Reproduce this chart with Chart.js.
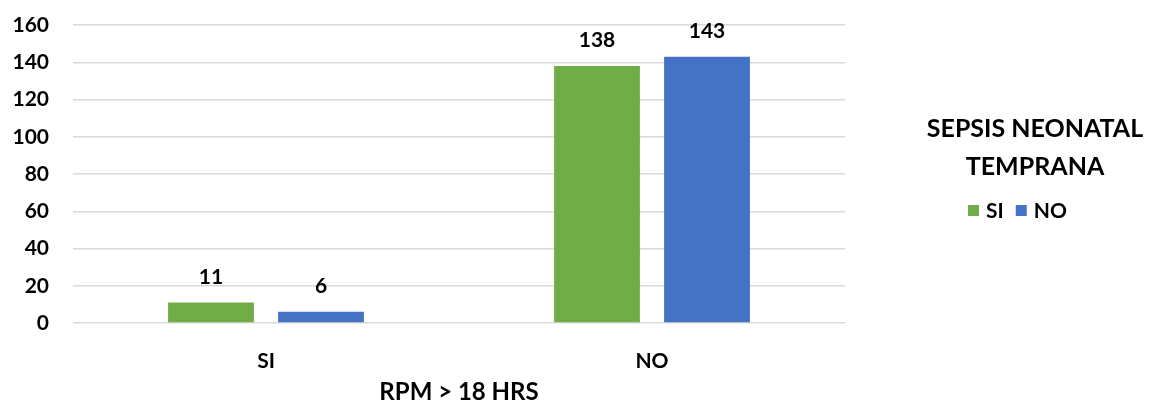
<!DOCTYPE html>
<html lang="es">
<head>
<meta charset="utf-8">
<title>RPM > 18 HRS</title>
<script src="https://cdn.jsdelivr.net/npm/chart.js"></script>
<style>
  html, body { margin: 0; padding: 0; background: #fff; }
  #wrap { width: 1150px; height: 407px; }
</style>
</head>
<body>
<div id="wrap"><canvas id="myChart" width="1150" height="407"></canvas></div>
<script>
    // data
    let categories = ['SI', 'NO']
    let seriesNames = ['SI', 'NO']
    let valuesSi = [11, 138]
    let valuesNo = [6, 143]
    let seriesColors = ['#70AD47', '#4472C4']
    let legendTitle = ['SEPSIS NEONATAL', 'TEMPRANA']
    let xTitle = 'RPM > 18 HRS'

    const FONT = 'Lato, "Liberation Sans", sans-serif'

    // value above each bar
    let barLabels = {
        id: 'barLabels',
        afterDatasetsDraw(chart) {
            let ctx = chart.ctx
            ctx.save()
            ctx.font = 'bold 21px ' + FONT
            ctx.fillStyle = '#000'
            ctx.textAlign = 'center'
            ctx.textBaseline = 'bottom'
            chart.data.datasets.forEach((ds, i) => {
                chart.getDatasetMeta(i).data.forEach((bar, j) => {
                    ctx.fillText(ds.data[j], bar.x, bar.y - 15)
                })
            })
            ctx.restore()
        }
    }

    // legend on the right with a two line title
    let sideLegend = {
        id: 'sideLegend',
        afterDraw(chart) {
            let ctx = chart.ctx
            let cx = 1035
            ctx.save()
            ctx.fillStyle = '#000'
            ctx.textAlign = 'center'
            ctx.textBaseline = 'middle'
            ctx.font = 'bold 25px ' + FONT
            ctx.fillText(legendTitle[0], cx, 129)
            ctx.fillText(legendTitle[1], cx, 167)

            ctx.font = 'bold 21px ' + FONT
            ctx.textAlign = 'left'
            let x = 968
            let y = 211
            chart.data.datasets.forEach((ds) => {
                ctx.fillStyle = ds.backgroundColor
                ctx.fillRect(x, y - 6, 11, 11)
                ctx.fillStyle = '#000'
                ctx.fillText(ds.label, x + 18, y)
                x += 18 + ctx.measureText(ds.label).width + 12
            })
            ctx.restore()
        }
    }

    let dataobj = {
        type: 'bar',
        data: {
            labels: categories,
            datasets: [{
                label: seriesNames[0],
                data: valuesSi,
                backgroundColor: seriesColors[0],
                categoryPercentage: 0.57,
                barPercentage: 0.78
            }, {
                label: seriesNames[1],
                data: valuesNo,
                backgroundColor: seriesColors[1],
                categoryPercentage: 0.57,
                barPercentage: 0.78
            }]
        },
        options: {
            responsive: false,
            animation: false,
            layout: {
                padding: { top: 0, right: 305, left: 0, bottom: 0 }
            },
            plugins: {
                legend: { display: false },
                tooltip: { enabled: false }
            },
            scales: {
                y: {
                    min: 0,
                    max: 160,
                    afterFit(scale) {
                        scale.width = 73
                        scale.paddingTop = 25
                    },
                    ticks: {
                        stepSize: 20,
                        color: '#000',
                        padding: 24,
                        font: { family: FONT, size: 21, weight: 'bold' }
                    },
                    grid: { color: '#d9d9d9', lineWidth: 1.5, drawTicks: false },
                    border: { display: false }
                },
                x: {
                    afterFit(scale) { scale.height = 84 },
                    ticks: {
                        color: '#000',
                        padding: 26,
                        font: { family: FONT, size: 21, weight: 'bold' }
                    },
                    grid: { display: false, drawTicks: false },
                    border: { display: false },
                    title: {
                        display: true,
                        text: xTitle,
                        color: '#000',
                        padding: { top: 0, bottom: 0 },
                        font: { family: FONT, size: 24, weight: 'bold' }
                    }
                }
            }
        },
        plugins: [barLabels, sideLegend]
    }

    var ctx = document.getElementById('myChart').getContext('2d')
    window.myBar = new Chart(ctx, dataobj)
</script>
</body>
</html>
